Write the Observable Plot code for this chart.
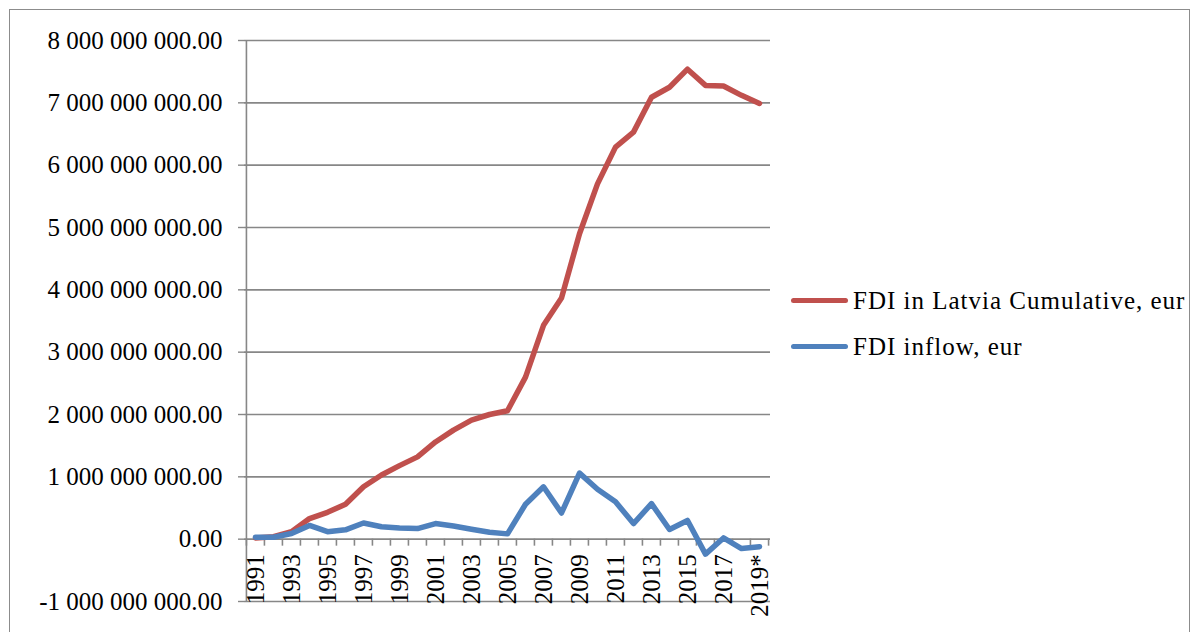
<!DOCTYPE html>
<html>
<head>
<meta charset="utf-8">
<script src="https://cdn.jsdelivr.net/npm/d3@7"></script>
<script src="https://cdn.jsdelivr.net/npm/@observablehq/plot@0.6"></script>
<style>
  html, body { margin: 0; padding: 0; background: #fff; }
  #wrap { position: relative; width: 1197px; height: 632px; overflow: hidden; }
  #border { position: absolute; left: 9px; top: 9px; width: 1181px; height: 640px; border: 1px solid #8c8c8c; box-sizing: border-box; }
  #chart { position: absolute; left: 0; top: 0; }
  .legend { position: absolute; left: 791px; top: 0; font-family: "Liberation Serif", serif; font-size: 25px; letter-spacing: 1px; color: #000; line-height: 1; }
  .legend .item { position: absolute; left: 0; white-space: nowrap; display: flex; align-items: center; }
  .legend .swatch { width: 57px; height: 5px; border-radius: 3px; margin-right: 5px; }
</style>
</head>
<body>
<div id="wrap">
  <div id="border"></div>
  <div id="chart"></div>
  <div class="legend" id="legend"></div>
</div>
<script>
const years = ["1991","1992","1993","1994","1995","1996","1997","1998","1999","2000",
  "2001","2002","2003","2004","2005","2006","2007","2008","2009","2010",
  "2011","2012","2013","2014","2015","2016","2017","2018","2019*"];

const cumulative = [0.02e9, 0.04e9, 0.12e9, 0.33e9, 0.43e9, 0.56e9, 0.84e9, 1.03e9, 1.18e9, 1.32e9,
  1.56e9, 1.75e9, 1.91e9, 2.0e9, 2.06e9, 2.6e9, 3.43e9, 3.87e9, 4.9e9, 5.7e9,
  6.29e9, 6.53e9, 7.09e9, 7.25e9, 7.54e9, 7.28e9, 7.27e9, 7.12e9, 6.99e9];

const inflow = [0.03e9, 0.03e9, 0.09e9, 0.22e9, 0.12e9, 0.15e9, 0.26e9, 0.2e9, 0.18e9, 0.17e9,
  0.25e9, 0.21e9, 0.16e9, 0.11e9, 0.085e9, 0.56e9, 0.84e9, 0.42e9, 1.06e9, 0.8e9,
  0.6e9, 0.25e9, 0.57e9, 0.155e9, 0.3e9, -0.24e9, 0.02e9, -0.15e9, -0.12e9];

const seriesNames = ["FDI in Latvia Cumulative, eur", "FDI inflow, eur"];
const seriesColors = ["#C0504D", "#4F81BD"];

const yTicks = [-1e9, 0, 1e9, 2e9, 3e9, 4e9, 5e9, 6e9, 7e9, 8e9];
const xLabels = years.filter((d, i) => i % 2 === 0);

const data = [];
years.forEach((y, i) => {
  data.push({year: y, value: cumulative[i], series: seriesNames[0]});
  data.push({year: y, value: inflow[i], series: seriesNames[1]});
});

const W = 1197, H = 632;
const mL = 244, mR = 427, mT = 40, mB = 31;
const bw = (W - mL - mR) / years.length;

const fmt = v => d3.format(",.2f")(v).replace(/,/g, " ").replace(/\u2212/g, "-");

const plot = Plot.plot({
  width: W, height: H,
  marginLeft: mL, marginRight: mR, marginTop: mT, marginBottom: mB,
  style: {fontFamily: "Liberation Serif, serif", background: "transparent", overflow: "visible"},
  x: {type: "band", domain: years, padding: 0, axis: null},
  y: {domain: [-1e9, 8e9], axis: null},
  color: {domain: seriesNames, range: seriesColors},
  marks: [
    Plot.gridY(yTicks, {stroke: "#878787", strokeOpacity: 1, strokeWidth: 1.6}),
    Plot.ruleX([years[0]], {dx: -bw / 2, stroke: "#878787", strokeWidth: 1.6}),
    Plot.axisY(yTicks, {label: null, tickSize: 6, tickPadding: 16, tickFormat: fmt, fontSize: 25, stroke: "#878787", strokeWidth: 1.4, fill: "#000"}),
    Plot.ruleX(years, {x: d => d, y1: 0, y2: 0, insetBottom: -7, dx: -bw / 2, stroke: "#878787", strokeWidth: 1.6}),
    Plot.ruleX([years[years.length - 1]], {y1: 0, y2: 0, insetBottom: -7, dx: bw / 2, stroke: "#878787", strokeWidth: 1.6}),
    Plot.line(data, {x: "year", y: "value", z: "series", stroke: "series", strokeWidth: 5.5, strokeLinejoin: "round", strokeLinecap: "round"}),
    Plot.text(xLabels, {x: d => d, y: 0, text: d => d, rotate: -90, textAnchor: "end", dy: 15, fontSize: 25, fill: "#000"})
  ]
});
document.getElementById("chart").appendChild(plot);

const legend = document.getElementById("legend");
const legendTops = [288, 334];
seriesNames.forEach((name, i) => {
  const item = document.createElement("div");
  item.className = "item";
  item.style.top = legendTops[i] + "px";
  const sw = document.createElement("div");
  sw.className = "swatch";
  sw.style.background = seriesColors[i];
  const tx = document.createElement("span");
  tx.textContent = name;
  item.appendChild(sw);
  item.appendChild(tx);
  legend.appendChild(item);
});
</script>
</body>
</html>
